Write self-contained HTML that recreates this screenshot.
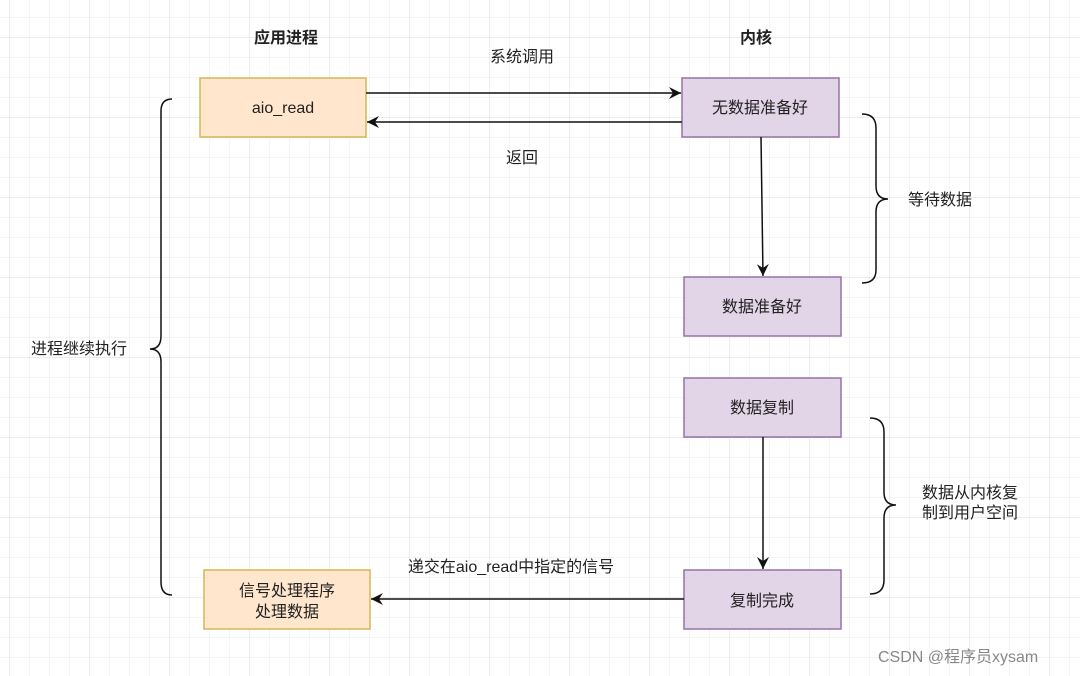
<!DOCTYPE html>
<html><head><meta charset="utf-8"><style>
html,body{margin:0;padding:0;background:#fff}
svg{display:block}
text{font-family:"Liberation Sans","Noto Sans CJK SC",sans-serif;font-size:16px;fill:#222}
</style></head><body>
<svg width="1080" height="676" viewBox="0 0 1080 676" xmlns="http://www.w3.org/2000/svg">
<defs>
<pattern id="g" x="10" y="18" width="20" height="20" patternUnits="userSpaceOnUse">
<path d="M20 0V20M0 20H20" stroke="#e8e8e8" stroke-width="1" fill="none"/>
</pattern>
<pattern id="G" x="10" y="38" width="80" height="80" patternUnits="userSpaceOnUse">
<path d="M80 0V80M0 80H80" stroke="#d9d9d9" stroke-width="1" fill="none"/>
</pattern>
<marker id="a" markerWidth="13" markerHeight="12" refX="12" refY="6" orient="auto" markerUnits="userSpaceOnUse">
<path d="M0,0 L12,6 L0,12 L4,6 Z" fill="#111"/>
</marker>
</defs>
<rect width="1080" height="676" fill="url(#g)"/>
<rect width="1080" height="676" fill="url(#G)"/>

<text x="286" y="43" text-anchor="middle" style="font-weight:bold">应用进程</text>
<text x="756" y="43" text-anchor="middle" style="font-weight:bold">内核</text>

<rect x="200" y="78" width="166" height="59" fill="#ffe6cc" stroke="#d6b656" stroke-width="1.5"/>
<text x="283" y="113" text-anchor="middle">aio_read</text>

<rect x="682" y="78" width="157" height="59" fill="#e1d5e7" stroke="#9673a6" stroke-width="1.5"/>
<text x="760" y="113" text-anchor="middle">无数据准备好</text>

<rect x="684" y="277" width="157" height="59" fill="#e1d5e7" stroke="#9673a6" stroke-width="1.5"/>
<text x="762" y="312" text-anchor="middle">数据准备好</text>

<rect x="684" y="378" width="157" height="59" fill="#e1d5e7" stroke="#9673a6" stroke-width="1.5"/>
<text x="762" y="413" text-anchor="middle">数据复制</text>

<rect x="684" y="570" width="157" height="59" fill="#e1d5e7" stroke="#9673a6" stroke-width="1.5"/>
<text x="762" y="606" text-anchor="middle">复制完成</text>

<rect x="204" y="570" width="166" height="59" fill="#ffe6cc" stroke="#d6b656" stroke-width="1.5"/>
<text x="287" y="596" text-anchor="middle">信号处理程序</text>
<text x="287" y="617" text-anchor="middle">处理数据</text>

<line x1="366" y1="93" x2="681" y2="93" stroke="#111" stroke-width="1.5" marker-end="url(#a)"/>
<line x1="682" y1="122" x2="367" y2="122" stroke="#111" stroke-width="1.5" marker-end="url(#a)"/>
<text x="522" y="62" text-anchor="middle">系统调用</text>
<text x="522" y="163" text-anchor="middle">返回</text>

<line x1="761" y1="137" x2="763" y2="276" stroke="#111" stroke-width="1.5" marker-end="url(#a)"/>
<line x1="763" y1="437" x2="763" y2="569" stroke="#111" stroke-width="1.5" marker-end="url(#a)"/>
<line x1="684" y1="599" x2="371" y2="599" stroke="#111" stroke-width="1.5" marker-end="url(#a)"/>
<text x="511" y="572" text-anchor="middle">递交在aio_read中指定的信号</text>

<path d="M862 114 Q876 114 876 128 V186 Q876 199 888 199 Q876 199 876 212 V270 Q876 283 862 283" fill="none" stroke="#111" stroke-width="1.5"/>
<text x="908" y="205">等待数据</text>

<path d="M870 418 Q884 418 884 432 V492 Q884 505 896 505 Q884 505 884 518 V580 Q884 594 870 594" fill="none" stroke="#111" stroke-width="1.5"/>
<text x="922" y="498">数据从内核复</text>
<text x="922" y="518">制到用户空间</text>

<path d="M172 99 Q161 99 161 111 V336 Q161 349 150 349 Q161 349 161 362 V582 Q161 595 172 595" fill="none" stroke="#111" stroke-width="1.5"/>
<text x="31" y="354">进程继续执行</text>

<text x="878" y="662" style="fill:#888;font-size:16px">CSDN @程序员xysam</text>
</svg>
</body></html>
